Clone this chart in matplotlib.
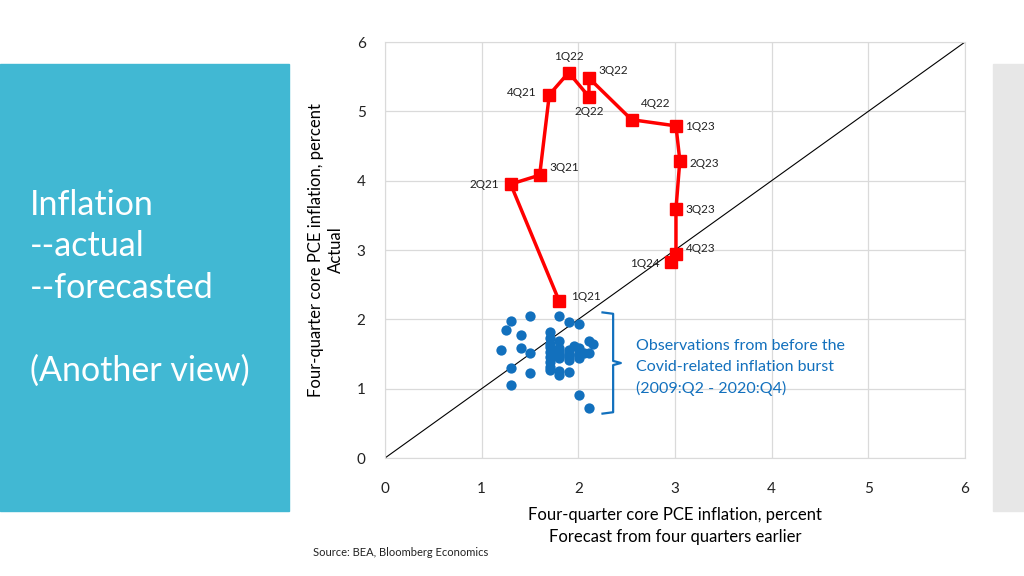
import matplotlib.pyplot as plt
from matplotlib.patches import Rectangle

plt.rcParams['font.family'] = ['Lato', 'DejaVu Sans']

# covid-era path: (forecast, actual)
quarters = ['1Q21', '2Q21', '3Q21', '4Q21', '1Q22', '2Q22', '3Q22',
            '4Q22', '1Q23', '2Q23', '3Q23', '4Q23', '1Q24']
forecast = [1.80, 1.30, 1.60, 1.70, 1.90, 2.11, 2.11,
            2.55, 3.01, 3.05, 3.01, 3.01, 2.96]
actual = [2.27, 3.95, 4.08, 5.24, 5.56, 5.21, 5.48,
          4.88, 4.79, 4.29, 3.59, 2.94, 2.83]

# label offsets in pixels and alignment for each quarter
label_dx = [12, -12, 10, -13, 0, 0, 9, 9, 9, 10, 9, 10, -11]
label_dy = [4, 0, 8, 2, 16, -15, 8, 16, -1, -3, 0, 6, -2]
label_ha = ['left', 'right', 'left', 'right', 'center', 'center', 'left',
            'left', 'left', 'left', 'left', 'left', 'right']

# pre-covid observations, 2009:Q2 - 2020:Q4
pre_forecast = [1.30, 1.50, 1.80, 1.90, 2.01, 1.25, 1.41, 1.71, 1.71, 1.80,
                2.11, 2.15, 1.20, 1.41, 1.50, 1.71, 1.71, 1.71, 1.71, 1.71,
                1.71, 1.80, 1.80, 1.80, 1.90, 1.90, 1.90, 1.95, 2.01, 2.01,
                2.01, 2.06, 2.11, 1.30, 1.50, 1.80, 1.80, 1.90, 1.30, 2.01,
                2.11, 1.80, 1.90, 2.01, 1.71, 1.80, 1.90]
pre_actual = [1.98, 2.05, 2.05, 1.96, 1.93, 1.85, 1.77, 1.82, 1.73, 1.69,
              1.69, 1.65, 1.56, 1.59, 1.52, 1.60, 1.53, 1.46, 1.39, 1.31,
              1.27, 1.59, 1.52, 1.44, 1.56, 1.49, 1.41, 1.62, 1.59, 1.52,
              1.44, 1.52, 1.52, 1.30, 1.23, 1.26, 1.20, 1.24, 1.05, 0.91,
              0.72, 1.55, 1.50, 1.48, 1.65, 1.47, 1.45]

xticks = [0, 1, 2, 3, 4, 5, 6]
yticks = [0, 1, 2, 3, 4, 5, 6]

fig = plt.figure(figsize=(10.24, 5.76), dpi=100)

# side panels
fig.patches.append(Rectangle((0, 65 / 576), 289 / 1024, 447 / 576,
                             transform=fig.transFigure, color='#41B8D3', zorder=0))
fig.patches.append(Rectangle((993 / 1024, 65 / 576), 31 / 1024, 447 / 576,
                             transform=fig.transFigure, color='#E7E7E7', zorder=0))

for txt, y in [('Inflation', 205), ('--actual', 246), ('--forecasted', 288),
               ('(Another view)', 371)]:
    fig.text(30 / 1024, 1 - y / 576, txt, color='white', fontsize=24.5,
             va='center', ha='left')

ax = fig.add_axes([385 / 1024, 118 / 576, 580 / 1024, 416 / 576])
ax.set_xlim(0, 6)
ax.set_ylim(0, 6)
ax.set_xticks(xticks)
ax.set_yticks(yticks)
ax.grid(True, color='#DADADA', linewidth=0.9)
ax.set_axisbelow(True)
for s in ax.spines.values():
    s.set_color('#DADADA')
ax.tick_params(length=0, labelsize=11, colors='#222222')
ax.tick_params(axis='x', pad=17)
ax.tick_params(axis='y', pad=14)

ax.plot([0, 6], [0, 6], color='black', linewidth=0.8, zorder=2)

ax.scatter(pre_forecast, pre_actual, s=55, color='#1270BD', zorder=3, linewidths=0)

ax.plot(forecast, actual, color='#FF0000', linewidth=2.5, marker='s',
        markersize=8, zorder=4)
for q, x, y, dx, dy, ha in zip(quarters, forecast, actual, label_dx, label_dy, label_ha):
    ax.annotate(q, (x, y), xytext=(dx, dy), textcoords='offset pixels',
                ha=ha, va='center', fontsize=8.5, color='#222222')

# brace around the pre-covid cloud
bx, top, bot, mid = 2.36, 2.08, 0.66, 1.37
ax.plot([2.25, bx, bx, 2.44, bx, bx, 2.25],
        [top + 0.02, top, mid + 0.03, mid, mid - 0.03, bot, bot - 0.02],
        color='#1270BD', linewidth=1.6, solid_joinstyle='round', zorder=3)
ax.text(2.6, 1.30, 'Observations from before the\nCovid-related inflation burst\n(2009:Q2 - 2020:Q4)',
        color='#1270BD', fontsize=11.5, va='center', ha='left', linespacing=1.6)

ax.set_xlabel('Four-quarter core PCE inflation, percent\nForecast from four quarters earlier',
              fontsize=12, labelpad=8, linespacing=1.5)
ax.set_ylabel('Four-quarter core PCE inflation, percent\nActual',
              fontsize=12, labelpad=9, linespacing=1.3)

fig.text(313 / 1024, 1 - 553 / 576, 'Source: BEA, Bloomberg Economics',
         fontsize=8, va='center', ha='left', color='#222222')

fig.savefig('out.png', dpi=100)
